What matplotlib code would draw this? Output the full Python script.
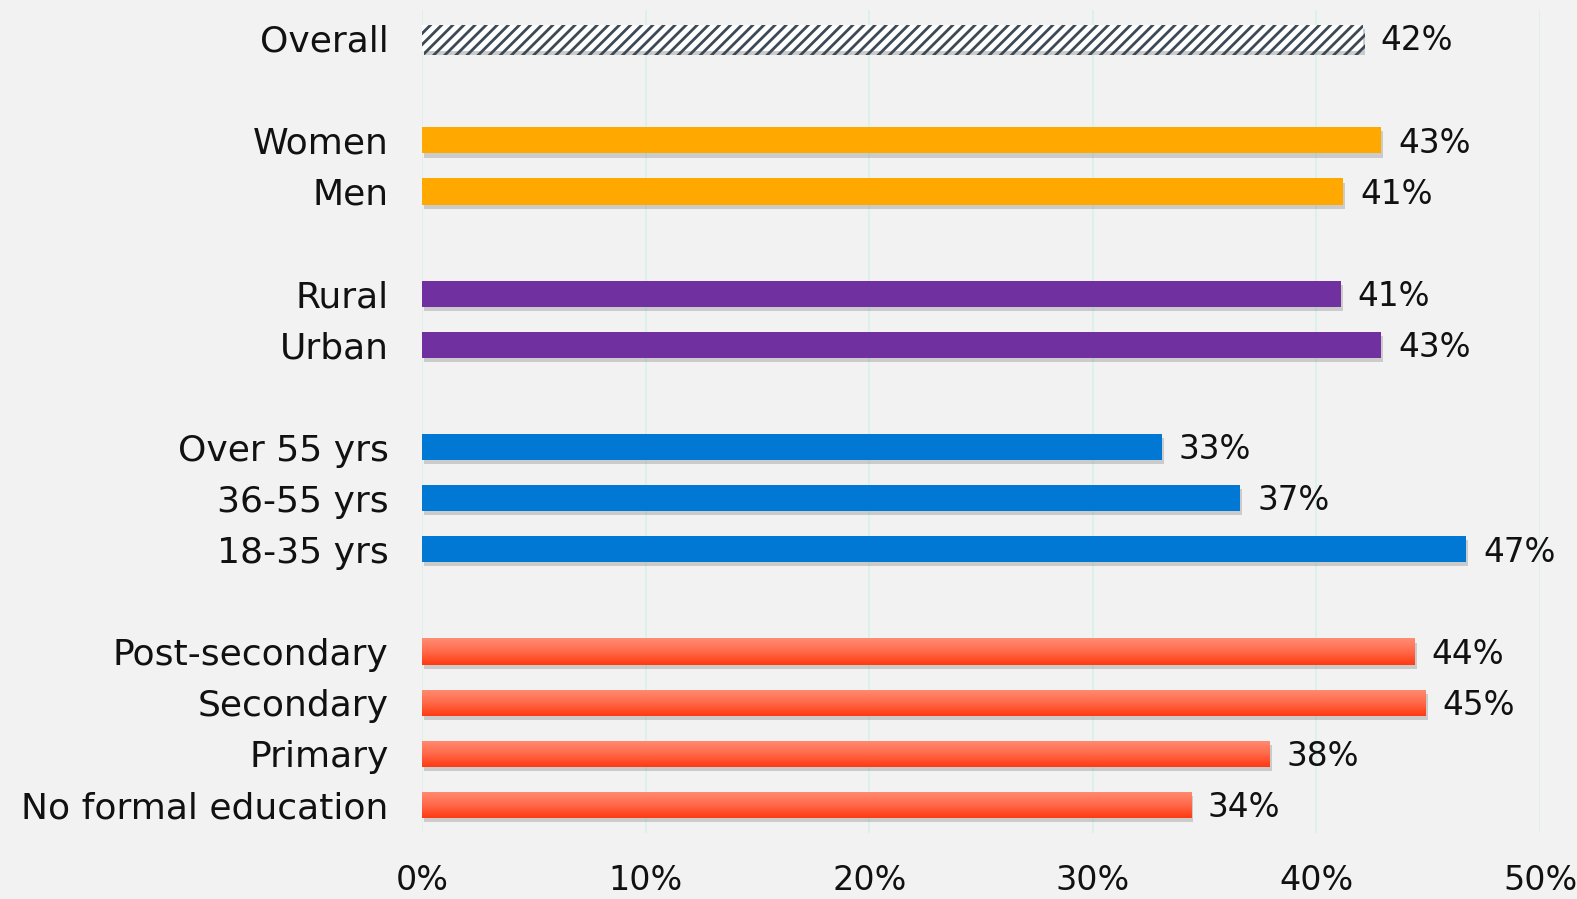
import numpy as np
import matplotlib
matplotlib.use("Agg")
import matplotlib.pyplot as plt
import matplotlib.patheffects as pe
from matplotlib.colors import LinearSegmentedColormap

# ---- data ----
categories = ["Overall", "Women", "Men", "Rural", "Urban",
              "Over 55 yrs", "36-55 yrs", "18-35 yrs",
              "Post-secondary", "Secondary", "Primary", "No formal education"]
values = [42.1, 42.9, 41.2, 41.1, 42.9, 33.1, 36.6, 46.7, 44.4, 44.9, 37.9, 34.4]
groups = ["overall", "gender", "gender", "location", "location",
          "age", "age", "age", "edu", "edu", "edu", "edu"]
slots = [0, 2, 3, 5, 6, 8, 9, 10, 12, 13, 14, 15]
xticks = [0, 10, 20, 30, 40, 50]
xticklabels = ["0%", "10%", "20%", "30%", "40%", "50%"]

group_colors = {"overall": "white", "gender": "#FFA800", "location": "#7030A0",
                "age": "#0078D4", "edu": "#FF5A36"}

plt.rcParams["hatch.linewidth"] = 2.0

W, H = 1577, 899
fig = plt.figure(figsize=(W / 100, H / 100), dpi=100)
fig.patch.set_facecolor("#F2F2F2")
ax = fig.add_axes([422 / W, (H - 833) / H, (1540 - 422) / W, (833 - 10) / H])
ax.set_facecolor("#F2F2F2")

font = "DejaVu Sans"
bar_h = 0.51
shadow = [pe.SimplePatchShadow(offset=(1.5, -3), shadow_rgbFace="#666666", alpha=0.28), pe.Normal()]

red_cmap = LinearSegmentedColormap.from_list("red", ["#FF8C74", "#FF6A4A", "#FF3A12"])
grad = np.linspace(0, 1, 64).reshape(-1, 1)

for cat, v, g, s in zip(categories, values, groups, slots):
    if g == "overall":
        bars = ax.barh(s, v, height=bar_h, color="white", edgecolor="#3B4A56",
                       hatch="///", linewidth=0, zorder=3)
        bars[0].set_path_effects(shadow)
    elif g == "edu":
        bars = ax.barh(s, v, height=bar_h, color="#FF5A36", linewidth=0, zorder=3)
        bars[0].set_path_effects(shadow)
        im = ax.imshow(grad, cmap=red_cmap, aspect="auto", zorder=4,
                       extent=[0, v, s + bar_h / 2, s - bar_h / 2], interpolation="bilinear")
        im.set_clip_path(bars[0])
    else:
        bars = ax.barh(s, v, height=bar_h, color=group_colors[g], linewidth=0, zorder=3)
        bars[0].set_path_effects(shadow)
    ax.annotate(f"{v:.0f}%", xy=(v, s), xytext=(12, -2), textcoords="offset points",
                ha="left", va="center", fontsize=23.5, family=font, color="#111111", zorder=5)

ax.set_xlim(0, 50)
ax.set_ylim(15.55, -0.55)
ax.set_yticks(slots)
ax.set_yticklabels(categories, fontsize=26, family=font, color="#111111")
ax.set_xticks(xticks)
ax.set_xticklabels(xticklabels, fontsize=24, family=font, color="#111111")
ax.tick_params(axis="y", length=0, pad=24)
ax.tick_params(axis="x", length=0, pad=22)
ax.grid(axis="x", color="#D8F3EA", linewidth=1.3, zorder=0)
ax.set_axisbelow(True)
for sp in ax.spines.values():
    sp.set_visible(False)

fig.savefig("out.png", dpi=100, facecolor=fig.get_facecolor())
